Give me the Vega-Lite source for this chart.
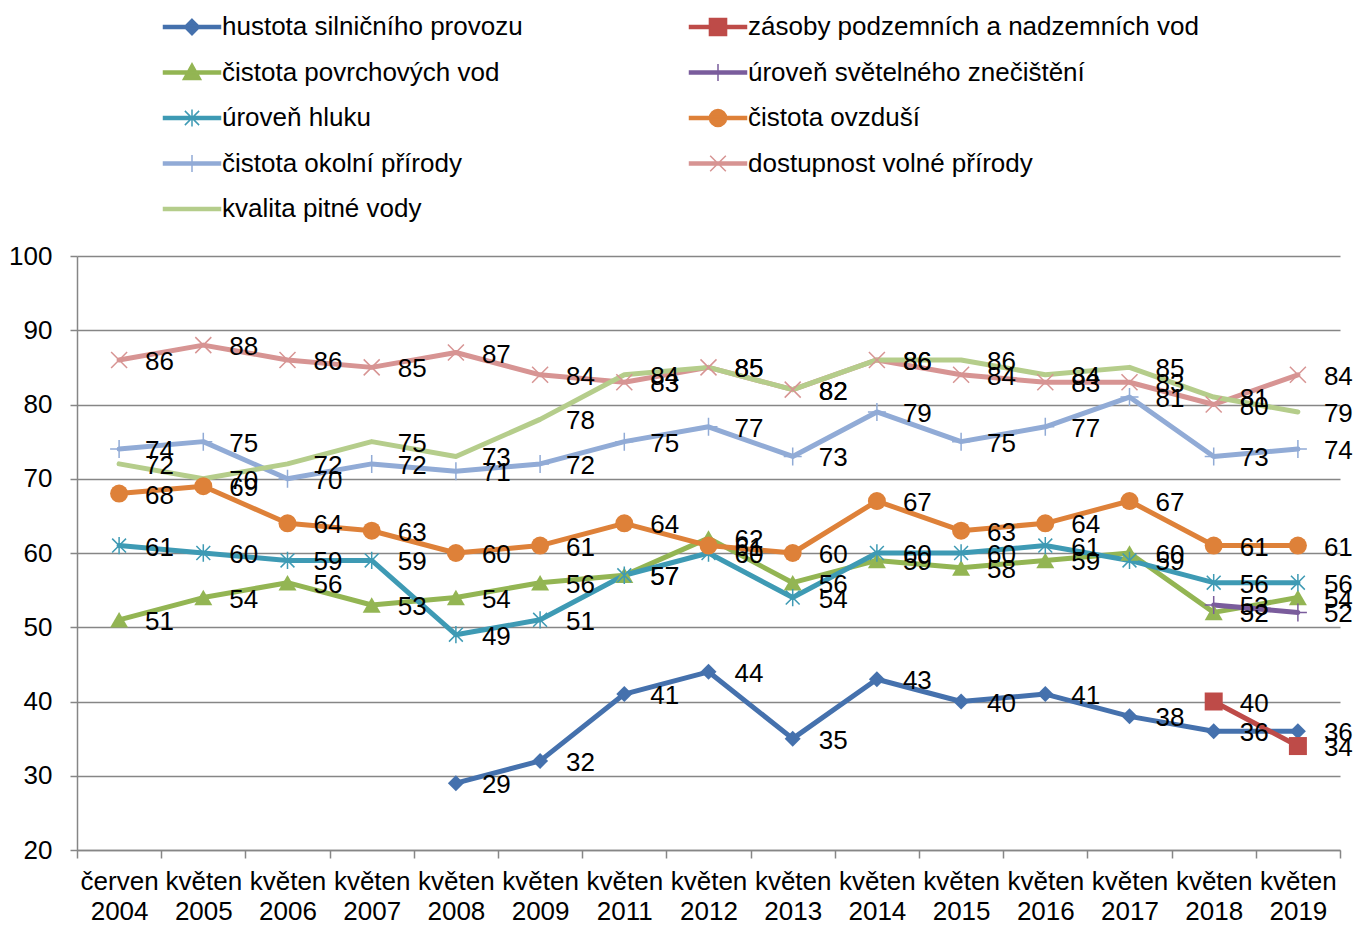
{
  "$schema": "https://vega.github.io/schema/vega-lite/v6.json",
  "width": 1263,
  "height": 594,
  "autosize": {"type": "none"},
  "padding": {"left": 77, "top": 256, "right": 19, "bottom": 75},
  "background": "white",
  "config": {
    "view": {"stroke": null},
    "font": "Liberation Sans",
    "legend": {
      "orient": "none",
      "legendX": 100,
      "legendY": -244,
      "columns": 2,
      "columnPadding": 163,
      "rowPadding": 17.5,
      "symbolSize": 812,
      "symbolStrokeWidth": 1.5,
      "symbolOpacity": 1,
      "labelOffset": 15,
      "labelFontSize": 26,
      "labelFont": "Liberation Sans",
      "labelColor": "black",
      "labelLimit": 0,
      "padding": 0
    }
  },
  "data": {
    "values": [
      {"period": "květen 2008", "series": "hustota silničního provozu", "value": 29},
      {"period": "květen 2009", "series": "hustota silničního provozu", "value": 32},
      {"period": "květen 2011", "series": "hustota silničního provozu", "value": 41},
      {"period": "květen 2012", "series": "hustota silničního provozu", "value": 44},
      {"period": "květen 2013", "series": "hustota silničního provozu", "value": 35},
      {"period": "květen 2014", "series": "hustota silničního provozu", "value": 43},
      {"period": "květen 2015", "series": "hustota silničního provozu", "value": 40},
      {"period": "květen 2016", "series": "hustota silničního provozu", "value": 41},
      {"period": "květen 2017", "series": "hustota silničního provozu", "value": 38},
      {"period": "květen 2018", "series": "hustota silničního provozu", "value": 36},
      {"period": "květen 2019", "series": "hustota silničního provozu", "value": 36},
      {"period": "květen 2018", "series": "zásoby podzemních a nadzemních vod", "value": 40},
      {"period": "květen 2019", "series": "zásoby podzemních a nadzemních vod", "value": 34},
      {"period": "červen 2004", "series": "čistota povrchových vod", "value": 51},
      {"period": "květen 2005", "series": "čistota povrchových vod", "value": 54},
      {"period": "květen 2006", "series": "čistota povrchových vod", "value": 56},
      {"period": "květen 2007", "series": "čistota povrchových vod", "value": 53},
      {"period": "květen 2008", "series": "čistota povrchových vod", "value": 54},
      {"period": "květen 2009", "series": "čistota povrchových vod", "value": 56},
      {"period": "květen 2011", "series": "čistota povrchových vod", "value": 57},
      {"period": "květen 2012", "series": "čistota povrchových vod", "value": 62},
      {"period": "květen 2013", "series": "čistota povrchových vod", "value": 56},
      {"period": "květen 2014", "series": "čistota povrchových vod", "value": 59},
      {"period": "květen 2015", "series": "čistota povrchových vod", "value": 58},
      {"period": "květen 2016", "series": "čistota povrchových vod", "value": 59},
      {"period": "květen 2017", "series": "čistota povrchových vod", "value": 60},
      {"period": "květen 2018", "series": "čistota povrchových vod", "value": 52},
      {"period": "květen 2019", "series": "čistota povrchových vod", "value": 54},
      {"period": "květen 2018", "series": "úroveň světelného znečištění", "value": 53},
      {"period": "květen 2019", "series": "úroveň světelného znečištění", "value": 52},
      {"period": "červen 2004", "series": "úroveň hluku", "value": 61},
      {"period": "květen 2005", "series": "úroveň hluku", "value": 60},
      {"period": "květen 2006", "series": "úroveň hluku", "value": 59},
      {"period": "květen 2007", "series": "úroveň hluku", "value": 59},
      {"period": "květen 2008", "series": "úroveň hluku", "value": 49},
      {"period": "květen 2009", "series": "úroveň hluku", "value": 51},
      {"period": "květen 2011", "series": "úroveň hluku", "value": 57},
      {"period": "květen 2012", "series": "úroveň hluku", "value": 60},
      {"period": "květen 2013", "series": "úroveň hluku", "value": 54},
      {"period": "květen 2014", "series": "úroveň hluku", "value": 60},
      {"period": "květen 2015", "series": "úroveň hluku", "value": 60},
      {"period": "květen 2016", "series": "úroveň hluku", "value": 61},
      {"period": "květen 2017", "series": "úroveň hluku", "value": 59},
      {"period": "květen 2018", "series": "úroveň hluku", "value": 56},
      {"period": "květen 2019", "series": "úroveň hluku", "value": 56},
      {"period": "červen 2004", "series": "čistota ovzduší", "value": 68},
      {"period": "květen 2005", "series": "čistota ovzduší", "value": 69},
      {"period": "květen 2006", "series": "čistota ovzduší", "value": 64},
      {"period": "květen 2007", "series": "čistota ovzduší", "value": 63},
      {"period": "květen 2008", "series": "čistota ovzduší", "value": 60},
      {"period": "květen 2009", "series": "čistota ovzduší", "value": 61},
      {"period": "květen 2011", "series": "čistota ovzduší", "value": 64},
      {"period": "květen 2012", "series": "čistota ovzduší", "value": 61},
      {"period": "květen 2013", "series": "čistota ovzduší", "value": 60},
      {"period": "květen 2014", "series": "čistota ovzduší", "value": 67},
      {"period": "květen 2015", "series": "čistota ovzduší", "value": 63},
      {"period": "květen 2016", "series": "čistota ovzduší", "value": 64},
      {"period": "květen 2017", "series": "čistota ovzduší", "value": 67},
      {"period": "květen 2018", "series": "čistota ovzduší", "value": 61},
      {"period": "květen 2019", "series": "čistota ovzduší", "value": 61},
      {"period": "červen 2004", "series": "čistota okolní přírody", "value": 74},
      {"period": "květen 2005", "series": "čistota okolní přírody", "value": 75},
      {"period": "květen 2006", "series": "čistota okolní přírody", "value": 70},
      {"period": "květen 2007", "series": "čistota okolní přírody", "value": 72},
      {"period": "květen 2008", "series": "čistota okolní přírody", "value": 71},
      {"period": "květen 2009", "series": "čistota okolní přírody", "value": 72},
      {"period": "květen 2011", "series": "čistota okolní přírody", "value": 75},
      {"period": "květen 2012", "series": "čistota okolní přírody", "value": 77},
      {"period": "květen 2013", "series": "čistota okolní přírody", "value": 73},
      {"period": "květen 2014", "series": "čistota okolní přírody", "value": 79},
      {"period": "květen 2015", "series": "čistota okolní přírody", "value": 75},
      {"period": "květen 2016", "series": "čistota okolní přírody", "value": 77},
      {"period": "květen 2017", "series": "čistota okolní přírody", "value": 81},
      {"period": "květen 2018", "series": "čistota okolní přírody", "value": 73},
      {"period": "květen 2019", "series": "čistota okolní přírody", "value": 74},
      {"period": "červen 2004", "series": "dostupnost volné přírody", "value": 86},
      {"period": "květen 2005", "series": "dostupnost volné přírody", "value": 88},
      {"period": "květen 2006", "series": "dostupnost volné přírody", "value": 86},
      {"period": "květen 2007", "series": "dostupnost volné přírody", "value": 85},
      {"period": "květen 2008", "series": "dostupnost volné přírody", "value": 87},
      {"period": "květen 2009", "series": "dostupnost volné přírody", "value": 84},
      {"period": "květen 2011", "series": "dostupnost volné přírody", "value": 83},
      {"period": "květen 2012", "series": "dostupnost volné přírody", "value": 85},
      {"period": "květen 2013", "series": "dostupnost volné přírody", "value": 82},
      {"period": "květen 2014", "series": "dostupnost volné přírody", "value": 86},
      {"period": "květen 2015", "series": "dostupnost volné přírody", "value": 84},
      {"period": "květen 2016", "series": "dostupnost volné přírody", "value": 83},
      {"period": "květen 2017", "series": "dostupnost volné přírody", "value": 83},
      {"period": "květen 2018", "series": "dostupnost volné přírody", "value": 80},
      {"period": "květen 2019", "series": "dostupnost volné přírody", "value": 84},
      {"period": "červen 2004", "series": "kvalita pitné vody", "value": 72},
      {"period": "květen 2005", "series": "kvalita pitné vody", "value": 70},
      {"period": "květen 2006", "series": "kvalita pitné vody", "value": 72},
      {"period": "květen 2007", "series": "kvalita pitné vody", "value": 75},
      {"period": "květen 2008", "series": "kvalita pitné vody", "value": 73},
      {"period": "květen 2009", "series": "kvalita pitné vody", "value": 78},
      {"period": "květen 2011", "series": "kvalita pitné vody", "value": 84},
      {"period": "květen 2012", "series": "kvalita pitné vody", "value": 85},
      {"period": "květen 2013", "series": "kvalita pitné vody", "value": 82},
      {"period": "květen 2014", "series": "kvalita pitné vody", "value": 86},
      {"period": "květen 2015", "series": "kvalita pitné vody", "value": 86},
      {"period": "květen 2016", "series": "kvalita pitné vody", "value": 84},
      {"period": "květen 2017", "series": "kvalita pitné vody", "value": 85},
      {"period": "květen 2018", "series": "kvalita pitné vody", "value": 81},
      {"period": "květen 2019", "series": "kvalita pitné vody", "value": 79}
    ]
  },
  "encoding": {
    "x": {
      "field": "period",
      "type": "nominal",
      "title": null,
      "scale": {
        "type": "band",
        "paddingInner": 0,
        "paddingOuter": 0,
        "domain": ["červen 2004", "květen 2005", "květen 2006", "květen 2007", "květen 2008", "květen 2009", "květen 2011", "květen 2012", "květen 2013", "květen 2014", "květen 2015", "květen 2016", "květen 2017", "květen 2018", "květen 2019"]
      },
      "axis": {
        "labelAngle": 0,
        "labelExpr": "split(datum.label, ' ')",
        "labelFont": "Liberation Sans",
        "labelFontSize": 26,
        "labelColor": "black",
        "labelLineHeight": 30,
        "labelPadding": 10,
        "labelBaseline": "top",
        "tickBand": "extent",
        "tickSize": 8,
        "tickColor": "#868686",
        "tickWidth": 1.5,
        "domainColor": "#868686",
        "domainWidth": 1.5,
        "grid": false
      }
    },
    "y": {
      "field": "value",
      "type": "quantitative",
      "title": null,
      "scale": {"domain": [20, 100], "nice": false, "zero": false},
      "axis": {
        "values": [20, 30, 40, 50, 60, 70, 80, 90, 100],
        "labelFont": "Liberation Sans",
        "labelFontSize": 26,
        "labelColor": "black",
        "labelPadding": 18,
        "tickSize": 7,
        "tickColor": "#868686",
        "tickWidth": 1.5,
        "domainColor": "#868686",
        "domainWidth": 1.5,
        "grid": true,
        "gridColor": "#868686",
        "gridWidth": 1.5
      }
    }
  },
  "layer": [
    {
      "mark": {"type": "line", "strokeWidth": 5, "strokeCap": "round", "strokeJoin": "round"},
      "encoding": {
        "stroke": {
          "field": "series",
          "type": "nominal",
          "title": null,
          "scale": {
            "domain": ["hustota silničního provozu", "čistota povrchových vod", "úroveň hluku", "čistota okolní přírody", "kvalita pitné vody", "zásoby podzemních a nadzemních vod", "úroveň světelného znečištění", "čistota ovzduší", "dostupnost volné přírody"],
            "range": ["#4571AD", "#93B553", "#3E9AB4", "#91ABD6", "#B5CD8B", "#BE4B48", "#7A5C9C", "#DE8139", "#D79493"]
          }
        }
      }
    },
    {
      "mark": {"type": "point", "filled": true, "opacity": 0},
      "encoding": {
        "fill": {
          "field": "series",
          "type": "nominal",
          "title": null,
          "scale": {
            "domain": ["hustota silničního provozu", "čistota povrchových vod", "úroveň hluku", "čistota okolní přírody", "kvalita pitné vody", "zásoby podzemních a nadzemních vod", "úroveň světelného znečištění", "čistota ovzduší", "dostupnost volné přírody"],
            "range": ["#4571AD", "#93B553", "#3E9AB4", "#91ABD6", "#B5CD8B", "#BE4B48", "#7A5C9C", "#DE8139", "#D79493"]
          }
        },
        "stroke": {
          "field": "series",
          "type": "nominal",
          "title": null,
          "scale": {
            "domain": ["hustota silničního provozu", "čistota povrchových vod", "úroveň hluku", "čistota okolní přírody", "kvalita pitné vody", "zásoby podzemních a nadzemních vod", "úroveň světelného znečištění", "čistota ovzduší", "dostupnost volné přírody"],
            "range": ["#4571AD", "#93B553", "#3E9AB4", "#91ABD6", "#B5CD8B", "#BE4B48", "#7A5C9C", "#DE8139", "#D79493"]
          }
        },
        "shape": {
          "field": "series",
          "type": "nominal",
          "title": null,
          "scale": {
            "domain": ["hustota silničního provozu", "čistota povrchových vod", "úroveň hluku", "čistota okolní přírody", "kvalita pitné vody", "zásoby podzemních a nadzemních vod", "úroveň světelného znečištění", "čistota ovzduší", "dostupnost volné přírody"],
            "range": [
              "M-2,-0.11H2V0.11H-2ZM0,-0.55L0.55,0L0,0.55L-0.55,0Z",
              "M-2,-0.11H2V0.11H-2ZM0,-0.62L0.62,0.5H-0.62Z",
              "M-2,-0.11H2V0.11H-2ZM-0.5,-0.5L0.5,0.5M-0.5,0.5L0.5,-0.5M0,-0.6V0.6",
              "M-2,-0.11H2V0.11H-2ZM0,-0.6V0.6",
              "M-2,-0.11H2V0.11H-2Z",
              "M-2,-0.11H2V0.11H-2ZM-0.6,-0.6H0.6V0.6H-0.6Z",
              "M-2,-0.11H2V0.11H-2ZM0,-0.6V0.6",
              "M-2,-0.11H2V0.11H-2ZM-0.6,0A0.6,0.6,0,1,1,0.6,0A0.6,0.6,0,1,1,-0.6,0Z",
              "M-2,-0.11H2V0.11H-2ZM-0.55,-0.55L0.55,0.55M-0.55,0.55L0.55,-0.55"
            ]
          }
        }
      }
    },
    {
      "transform": [{"filter": {"field": "series", "equal": "hustota silničního provozu"}}],
      "mark": {"type": "point", "shape": "diamond", "filled": true, "color": "#4571AD", "size": 256, "opacity": 1}
    },
    {
      "transform": [{"filter": {"field": "series", "equal": "zásoby podzemních a nadzemních vod"}}],
      "mark": {"type": "point", "shape": "square", "filled": true, "color": "#BE4B48", "size": 324, "opacity": 1}
    },
    {
      "transform": [{"filter": {"field": "series", "equal": "čistota povrchových vod"}}],
      "mark": {"type": "point", "shape": "triangle-up", "filled": true, "color": "#93B553", "size": 324, "opacity": 1}
    },
    {
      "transform": [{"filter": {"field": "series", "equal": "úroveň světelného znečištění"}}],
      "mark": {"type": "point", "shape": "M-1,0H1M0,-1V1", "filled": false, "color": "#7A5C9C", "size": 324, "strokeWidth": 1.5, "opacity": 1}
    },
    {
      "transform": [{"filter": {"field": "series", "equal": "úroveň hluku"}}],
      "mark": {"type": "point", "shape": "M-0.8,-0.8L0.8,0.8M-0.8,0.8L0.8,-0.8M0,-1V1", "filled": false, "color": "#3E9AB4", "size": 300, "strokeWidth": 1.5, "opacity": 1}
    },
    {
      "transform": [{"filter": {"field": "series", "equal": "čistota ovzduší"}}],
      "mark": {"type": "point", "shape": "circle", "filled": true, "color": "#DE8139", "size": 324, "opacity": 1}
    },
    {
      "transform": [{"filter": {"field": "series", "equal": "čistota okolní přírody"}}],
      "mark": {"type": "point", "shape": "M-1,0H1M0,-1V1", "filled": false, "color": "#91ABD6", "size": 324, "strokeWidth": 1.5, "opacity": 1}
    },
    {
      "transform": [{"filter": {"field": "series", "equal": "dostupnost volné přírody"}}],
      "mark": {"type": "point", "shape": "M-1,-1L1,1M-1,1L1,-1", "filled": false, "color": "#D79493", "size": 256, "strokeWidth": 1.5, "opacity": 1}
    },
    {
      "mark": {"type": "text", "align": "left", "baseline": "middle", "dx": 26, "dy": 2, "fontSize": 26, "font": "Liberation Sans", "color": "black"},
      "encoding": {"text": {"field": "value", "type": "quantitative"}}
    }
  ]
}
